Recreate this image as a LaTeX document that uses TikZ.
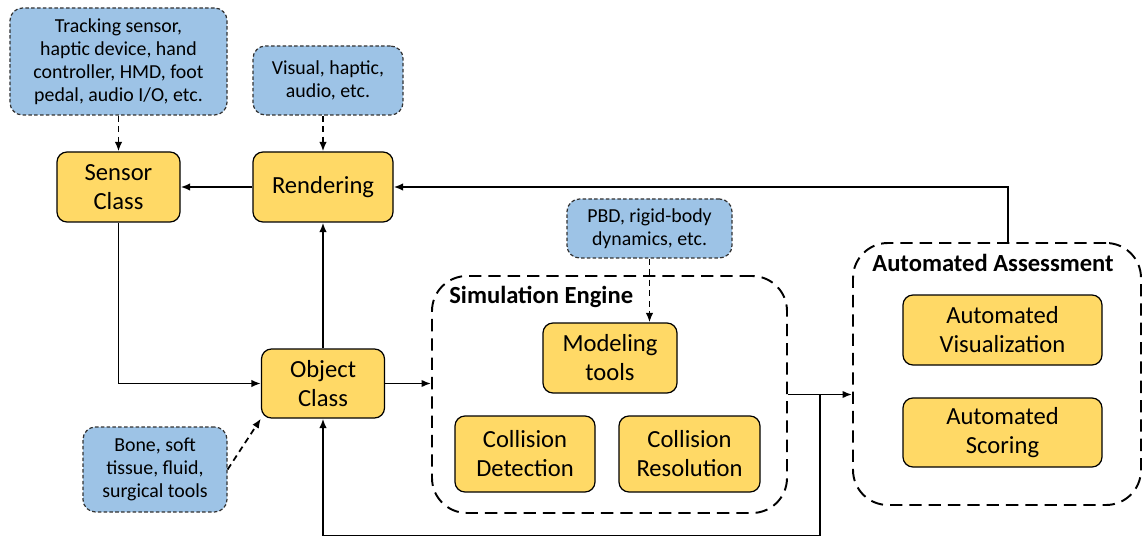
\documentclass[tikz,border=0pt]{standalone}
\usepackage{fontspec}
\setmainfont{Carlito}
\usetikzlibrary{arrows.meta}

\definecolor{boxyellow}{HTML}{FFD966}
\definecolor{boxblue}{HTML}{9DC3E6}

\begin{document}
\begin{tikzpicture}[
		>={Latex[length=1.9mm,width=1.5mm]},
		block/.style={draw, fill=boxyellow, rounded corners=2mm, line width=0.7pt, align=center, inner sep=0pt, font=\fontsize{14}{16.5}\selectfont},
		note/.style={draw=black!80, fill=boxblue, dash pattern=on 2pt off 1.3pt, rounded corners=2.5mm, line width=0.7pt, align=center, inner sep=0pt, font=\fontsize{11.3}{13}\selectfont},
		frame/.style={draw, line width=1.1pt, dash pattern=on 7pt off 4pt, rounded corners=7mm, inner sep=0pt},
		title/.style={anchor=base west, inner sep=0pt, font=\bfseries\fontsize{14}{16.5}\selectfont},
		link/.style={->, line width=1pt},
		hint/.style={->, line width=1pt, dash pattern=on 3.5pt off 2.5pt}
	]
		\useasboundingbox (0,0) rectangle (22.86,10.76);
		
		% dashed groups
		\node[frame, minimum width=7.10cm, minimum height=4.74cm] (sim) at (12.19,2.87) {};
		\node[title] (simtitle) at (8.98,4.70) {Simulation Engine};
		\node[frame, minimum width=5.76cm, minimum height=5.24cm] (assess) at (19.94,3.28) {};
		\node[title] (assesstitle) at (17.44,5.34) {Automated Assessment};
		
		\node[note, minimum width=4.34cm, minimum height=2.14cm] (devices) at (2.37,9.53) {Tracking sensor,\\haptic device, hand\\controller, HMD, foot\\pedal, audio I/O, etc.};
		\node[note, minimum width=3.0cm, minimum height=1.38cm] (outputs) at (6.56,9.15) {Visual, haptic,\\audio, etc.};
		\node[note, minimum width=2.88cm, minimum height=1.70cm] (tissue) at (3.10,1.37) {Bone, soft\\tissue, fluid,\\surgical tools};
		\node[note, minimum width=3.3cm, minimum height=1.18cm] (dynamics) at (12.99,6.19) {PBD, rigid-body\\dynamics, etc.};
		
		\node[block, minimum width=2.46cm, minimum height=1.4cm] (sensor) at (2.37,7.02) {Sensor\\Class};
		\node[block, minimum width=2.8cm, minimum height=1.4cm] (render) at (6.46,7.02) {Rendering};
		\node[block, minimum width=2.46cm, minimum height=1.38cm] (object) at (6.46,3.09) {Object\\Class};
		\node[block, minimum width=2.68cm, minimum height=1.4cm] (model) at (12.2,3.6) {Modeling\\tools};
		\node[block, minimum width=2.8cm, minimum height=1.52cm] (detect) at (10.5,1.68) {Collision\\Detection};
		\node[block, minimum width=2.82cm, minimum height=1.52cm] (resolve) at (13.79,1.68) {Collision\\Resolution};
		\node[block, minimum width=3.98cm, minimum height=1.4cm] (visual) at (20.05,4.16) {Automated\\Visualization};
		\node[block, minimum width=3.98cm, minimum height=1.38cm] (score) at (20.05,2.11) {Automated\\Scoring};
		
		\draw[hint] (devices) -- (sensor);
		\draw[hint] (render.north |- outputs.south) -- (render.north);
		\draw[hint] (tissue.east) -- (object.south west);
		\draw[hint] (dynamics.south) -- (dynamics.south |- model.north);
		
		\draw[link] (render) -- (sensor);
		\draw[link] (sensor.south) |- (object.west);
		\draw[link] (object) -- (render);
		\draw[link] (object.east) -- (object.east -| sim.west);
		\draw[link] (sim.east) -- (sim.east -| assess.west);
		\draw[link] ([xshift=2.2mm]assess.north) |- (render.east);
		
		% loop back to the object class
		\coordinate (split) at (16.40,2.87);
		\coordinate (base) at (16.40,0.05);
		\draw[link] (split) -- (base) -| (object.south);
		
\end{tikzpicture}
\end{document}
